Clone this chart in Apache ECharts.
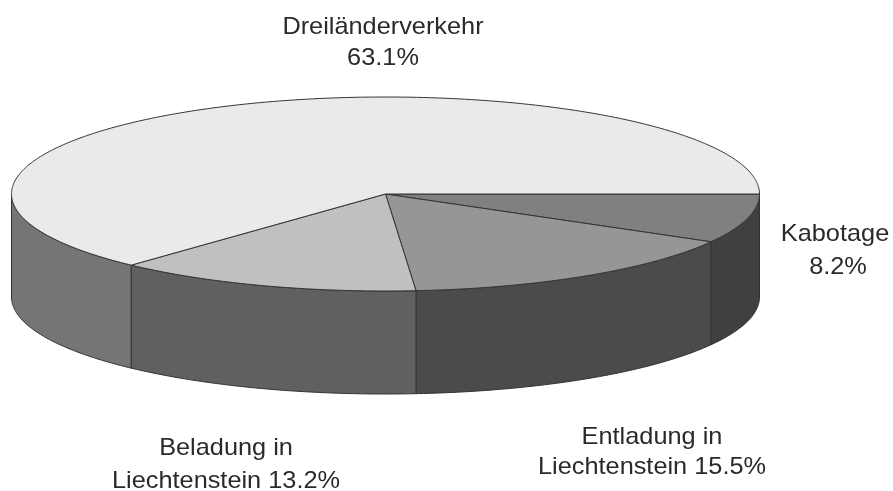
<!DOCTYPE html>
<html><head><meta charset="utf-8">
<style>html,body{margin:0;padding:0;background:#fff}#c{width:893px;height:491px}</style>
<script src="https://cdn.jsdelivr.net/npm/echarts@6/dist/echarts.min.js"></script>
</head><body><div id="c"></div>
<script>
var categories = ['Kabotage', 'Entladung in Liechtenstein', 'Beladung in Liechtenstein', 'Dreiländerverkehr'];
var shares = [8.2, 15.5, 13.2, 63.1];
var labelLines = [['Kabotage', '8.2%'], ['Entladung in', 'Liechtenstein 15.5%'], ['Beladung in', 'Liechtenstein 13.2%'], ['Dreiländerverkehr', '63.1%']];
var topColors = ['#808080', '#969696', '#c0c0c0', '#eaeaea'];
var sideColors = ['#404040', '#4b4b4b', '#606060', '#757575'];
var labelAnchors = [[[835, 242], [838, 275]], [[652, 445], [652, 475]], [[226, 456], [226, 489]], [[383, 35], [383, 66]]];

var cx = 385.5, cy = 194, rx = 374, ry = 97, depth = 103, textStretch = 1.055, baselineShift = 8;
var total = shares.reduce(function (a, b) { return a + b; }, 0);
function pt(a, dy) { return [cx + rx * Math.cos(a), cy + ry * Math.sin(a) + (dy || 0)]; }
function arc(a0, a1, dy) {
  var n = Math.max(2, Math.ceil(Math.abs(a1 - a0) / 0.01)), out = [];
  for (var i = 0; i <= n; i++) out.push(pt(a0 + (a1 - a0) * i / n, dy));
  return out;
}
function renderItem(params, api) {
  var i = params.dataIndex, before = 0;
  for (var k = 0; k < i; k++) before += shares[k];
  var a0 = before / total * 2 * Math.PI, a1 = (before + api.value(1)) / total * 2 * Math.PI;
  var children = [];
  var line = { stroke: '#333333', lineWidth: 1, lineJoin: 'round' };
  if (a0 < Math.PI) {
    var e = Math.min(a1, Math.PI);
    var side = arc(a0, e, 0).concat(arc(e, a0, depth));
    children.push({ type: 'polygon', shape: { points: side }, style: Object.assign({ fill: sideColors[i] }, line) });
  }
  var top = [[cx, cy]].concat(arc(a0, a1, 0));
  children.push({ type: 'polygon', shape: { points: top }, style: Object.assign({ fill: topColors[i] }, line) });
  labelLines[i].forEach(function (t, j) {
    children.push({ type: 'text', x: labelAnchors[i][j][0], y: labelAnchors[i][j][1] - baselineShift, scaleX: textStretch, style: {
      text: t, x: 0, y: 0,
      fill: '#2a2a2a', font: '24px "Liberation Sans", Arial, sans-serif',
      textAlign: 'center', textVerticalAlign: 'middle' } });
  });
  return { type: 'group', children: children };
}
var chart = echarts.init(document.getElementById('c'), null, { renderer: 'canvas' });
chart.setOption({
  animation: false,
  backgroundColor: '#fff',
  series: [{
    type: 'custom', coordinateSystem: 'none', renderItem: renderItem,
    data: categories.map(function (c, i) { return { name: c, value: [i, shares[i]] }; })
  }]
});
</script></body></html>
